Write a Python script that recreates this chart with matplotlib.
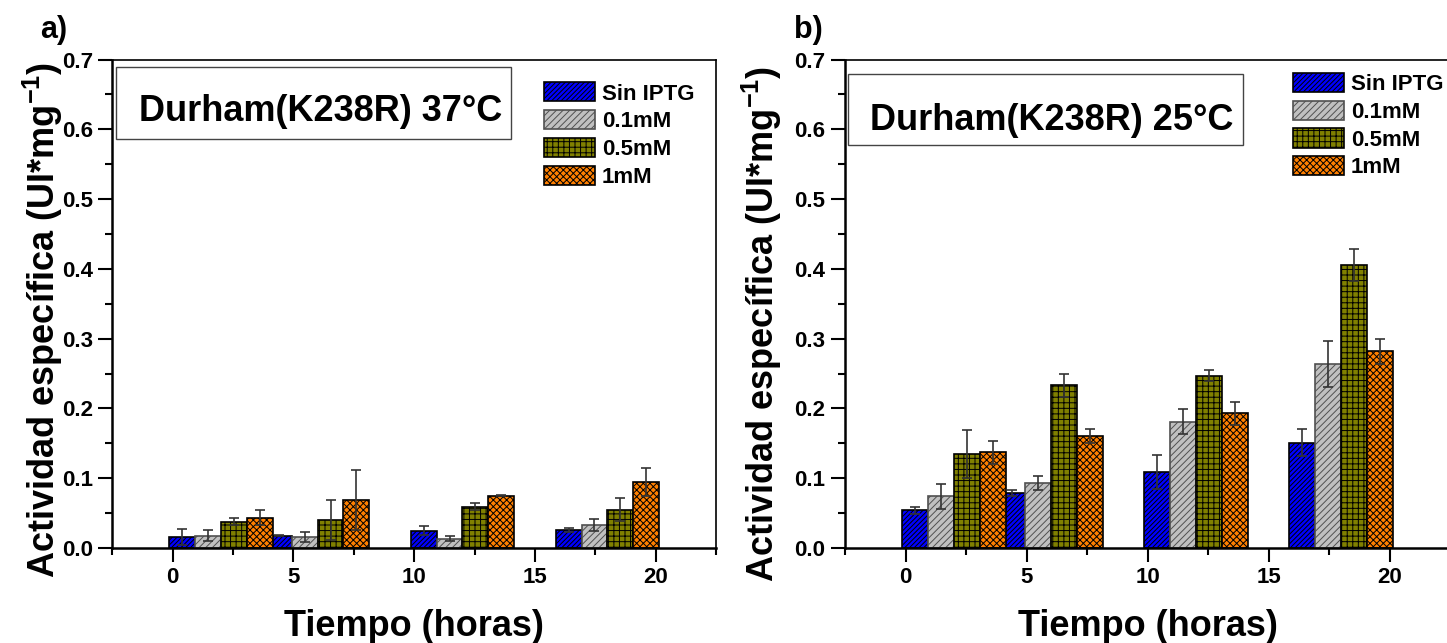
import numpy as np
import matplotlib
matplotlib.use("Agg")
import matplotlib.pyplot as plt
from matplotlib.ticker import MultipleLocator
from matplotlib.patches import Rectangle

plt.rcParams["font.family"] = ["Liberation Sans", "DejaVu Sans"]
plt.rcParams["font.weight"] = "bold"
plt.rcParams["mathtext.fontset"] = "custom"
plt.rcParams["mathtext.bf"] = "Liberation Sans:bold"
plt.rcParams["mathtext.rm"] = "Liberation Sans:bold"
plt.rcParams["mathtext.default"] = "bf"
plt.rcParams["hatch.linewidth"] = 0.7

# =====================================
# Data
# =====================================

times = [2, 6, 12, 18]
series = ["Sin IPTG", "0.1mM", "0.5mM", "1mM"]

# a) 37 C
sin_37 = [0.016, 0.0176, 0.025, 0.026]
c01_37 = [0.0176, 0.016, 0.0135, 0.033]
c05_37 = [0.038, 0.0405, 0.059, 0.055]
c1_37 = [0.0435, 0.069, 0.075, 0.0945]
sin_37_err = [0.011, 0.001, 0.006, 0.003]
c01_37_err = [0.008, 0.007, 0.004, 0.008]
c05_37_err = [0.005, 0.029, 0.005, 0.016]
c1_37_err = [0.011, 0.043, 0.001, 0.020]

# b) 25 C
sin_25 = [0.054, 0.079, 0.109, 0.151]
c01_25 = [0.074, 0.093, 0.181, 0.264]
c05_25 = [0.135, 0.233, 0.247, 0.406]
c1_25 = [0.137, 0.160, 0.193, 0.282]
sin_25_err = [0.005, 0.004, 0.024, 0.019]
c01_25_err = [0.018, 0.010, 0.018, 0.033]
c05_25_err = [0.034, 0.016, 0.008, 0.023]
c1_25_err = [0.016, 0.010, 0.016, 0.018]

colors = ["#0000FF", "#C0C0C0", "#808000", "#FF8000"]
edges = ["#000000", "#505050", "#000000", "#000000"]
hatches = ["///////", "/////", "+++", "xxxxx"]

bar_w = 1.07

# =====================================
# Figure
# =====================================

fig = plt.figure(figsize=(14.47, 6.43), dpi=100)
ax1 = fig.add_axes([0.0777, 0.1477, 0.4171, 0.7597])
ax2 = fig.add_axes([0.5840, 0.1477, 0.4181, 0.7597])


def draw_panel(ax, vals, errs, title, box, text_xy, legend_xy, ylab_xy):
    x = np.array(times, dtype=float)
    handles = []
    for i in range(4):
        pos = x + (i - 1.5) * bar_w
        b = ax.bar(pos, vals[i], width=bar_w, color=colors[i],
                   edgecolor=edges[i], hatch=hatches[i], linewidth=1.2,
                   label=series[i], zorder=2)
        handles.append(b)
    for i in range(4):
        pos = x + (i - 1.5) * bar_w
        ax.errorbar(pos, vals[i], yerr=errs[i], fmt="none", ecolor="#333333",
                    elinewidth=1.2, capsize=3.4, capthick=1.2, zorder=3)

    ax.set_xlim(-2.5, 22.5)
    ax.set_ylim(0, 0.7)
    ax.xaxis.set_major_locator(MultipleLocator(5))
    ax.xaxis.set_minor_locator(MultipleLocator(2.5))
    ax.yaxis.set_minor_locator(MultipleLocator(0.05))
    ax.set_yticks(np.arange(0, 0.71, 0.1))
    ax.set_yticklabels(["%.1f" % v for v in np.arange(0, 0.71, 0.1)])
    ax.tick_params(which="major", direction="out", length=10, width=1.5,
                   labelsize=16, pad=4, top=False, right=False)
    ax.tick_params(which="minor", direction="out", length=5, width=1.5,
                   top=False, right=False)
    for lab in ax.get_xticklabels() + ax.get_yticklabels():
        lab.set_fontweight("bold")
    for s in ["left", "bottom"]:
        ax.spines[s].set_linewidth(1.8)
    for s in ["top", "right"]:
        ax.spines[s].set_linewidth(1.2)

    ax.set_xlabel("Tiempo (horas)", fontsize=26, fontweight="bold")
    ax.xaxis.set_label_coords(0.5, -0.125)
    ax.set_ylabel("Actividad específica (UI*mg$^{-1}$)", fontsize=26,
                  fontweight="bold")
    ax.yaxis.set_label_coords(*ylab_xy)

    ax.add_patch(Rectangle((box[0], box[1]), box[2], box[3],
                           transform=ax.transAxes, fill=False,
                           edgecolor="#444444", linewidth=1.0, zorder=4))
    ax.text(text_xy[0], text_xy[1], title, transform=ax.transAxes,
            ha="center", va="center", fontsize=26, fontweight="bold", zorder=5)

    ax.legend(handles=handles, loc="upper left", bbox_to_anchor=legend_xy,
              bbox_transform=fig.transFigure, frameon=False, borderaxespad=0,
              borderpad=0, handlelength=2.3, handleheight=0.95,
              handletextpad=0.3, labelspacing=0.25,
              prop={"weight": "bold", "size": 16})


draw_panel(ax1,
           [sin_37, c01_37, c05_37, c1_37],
           [sin_37_err, c01_37_err, c05_37_err, c1_37_err],
           "Durham(K238R) 37°C",
           (0.0058, 0.837, 0.654, 0.148), (0.345, 0.893),
           (0.376, 0.872), (-0.079, 0.467))

draw_panel(ax2,
           [sin_25, c01_25, c05_25, c1_25],
           [sin_25_err, c01_25_err, c05_25_err, c1_25_err],
           "Durham(K238R) 25°C",
           (0.0041, 0.825, 0.654, 0.145), (0.342, 0.875),
           (0.8936, 0.8867), (-0.101, 0.459))

fig.text(40 / 1447, 1 - 38 / 643, "a)", fontsize=22, fontweight="bold")
fig.text(794 / 1447, 1 - 38 / 643, "b)", fontsize=22, fontweight="bold")

fig.savefig("out.png", dpi=100)
